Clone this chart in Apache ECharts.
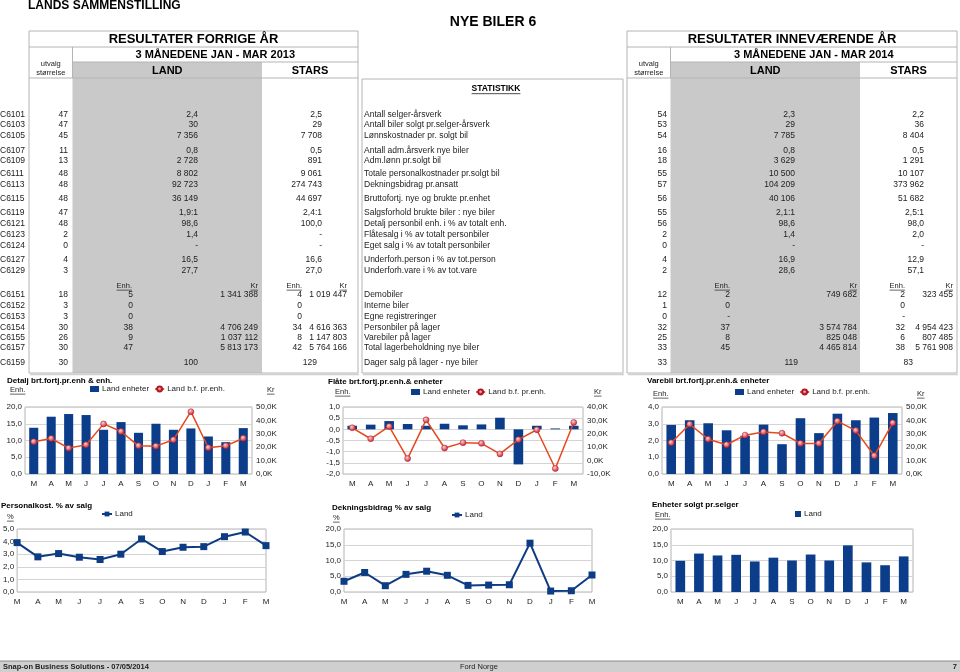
<!DOCTYPE html>
<html><head><meta charset="utf-8">
<script src="https://cdn.jsdelivr.net/npm/echarts@6/dist/echarts.min.js"></script>
<style>html,body{margin:0;padding:0;background:#fff}#c{width:960px;height:672px}</style>
</head><body><div id="c"></div><script>
// ---------- DATA ----------
const months = ['M','A','M','J','J','A','S','O','N','D','J','F','M'];
const detaljEnh = [13.8,17.1,17.9,17.6,13.2,15.5,12.3,15.0,13.2,13.6,11.2,9.5,13.7];
const detaljKr  = [24000,26500,19300,21800,37400,31700,21000,20800,25500,46500,19600,21000,26700];
const flateEnh  = [0.16,0.21,0.37,0.24,0.16,0.25,0.18,0.22,0.52,-1.57,0.16,0.04,0.16];
const flateKr   = [24500,16300,25500,1500,30400,9400,13400,12900,5000,15600,23000,-5900,28500];
const vareEnh   = [2.93,3.21,3.03,2.61,2.28,2.95,1.78,3.33,2.44,3.60,3.21,3.37,3.64];
const vareKr    = [23300,37100,26000,21800,29000,31400,30400,22800,22800,39400,32400,13600,38100];
const personalPct = [3.92,2.79,3.05,2.76,2.58,3.00,4.21,3.21,3.55,3.60,4.39,4.76,3.68];
const dbPct       = [3.4,6.2,2.0,5.6,6.6,5.3,2.1,2.2,2.3,15.5,0.3,0.4,5.4];
const enhPrSelger = [9.9,12.2,11.6,11.8,9.7,10.9,10.0,11.9,10.0,14.8,9.4,8.5,11.3];

const codes = ['C6101','C6103','C6105','C6107','C6109','C6111','C6113','C6115','C6119','C6121','C6123','C6124','C6127','C6129'];
const statText = ['Antall selger-årsverk','Antall biler solgt pr.selger-årsverk','Lønnskostnader pr. solgt bil','Antall adm.årsverk nye biler','Adm.lønn pr.solgt bil','Totale personalkostnader pr.solgt bil','Dekningsbidrag pr.ansatt','Bruttofortj. nye og brukte pr.enhet','Salgsforhold brukte biler : nye biler','Detalj personbil enh. i % av totalt enh.','Flåtesalg i % av totalt personbiler','Eget salg i % av totalt personbiler','Underforh.person i % av tot.person','Underforh.vare i % av tot.vare'];
const prevUtvalg = ['47','47','45','11','13','48','48','48','47','48','2','0','4','3'];
const prevLand   = ['2,4','30','7 356','0,8','2 728','8 802','92 723','36 149','1,9:1','98,6','1,4','-','16,5','27,7'];
const prevStars  = ['2,5','29','7 708','0,5','891','9 061','274 743','44 697','2,4:1','100,0','-','-','16,6','27,0'];
const curUtvalg  = ['54','53','54','16','18','55','57','56','55','56','2','0','4','2'];
const curLand    = ['2,3','29','7 785','0,8','3 629','10 500','104 209','40 106','2,1:1','98,6','1,4','-','16,9','28,6'];
const curStars   = ['2,2','36','8 404','0,5','1 291','10 107','373 962','51 682','2,5:1','98,0','2,0','-','12,9','57,1'];

const codes2 = ['C6151','C6152','C6153','C6154','C6155','C6157','C6159'];
const statText2 = ['Demobiler','Interne biler','Egne registreringer','Personbiler på lager','Varebiler på lager','Total lagerbeholdning nye biler','Dager salg på lager - nye biler'];
const prevUtvalg2 = ['18','3','3','30','26','30','30'];
const prevLandEnh = ['5','0','0','38','9','47'];
const prevLandKr  = ['1 341 388','','','4 706 249','1 037 112','5 813 173'];
const prevStarsEnh = ['4','0','0','34','8','42'];
const prevStarsKr  = ['1 019 447','','','4 616 363','1 147 803','5 764 166'];
const prevDays = ['100','129'];
const curUtvalg2 = ['12','1','0','32','25','33','33'];
const curLandEnh = ['2','0','-','37','8','45'];
const curLandKr  = ['749 682','','','3 574 784','825 048','4 465 814'];
const curStarsEnh = ['2','0','-','32','6','38'];
const curStarsKr  = ['323 455','','','4 954 423','807 485','5 761 908'];
const curDays = ['119','83'];

// ---------- LAYOUT / STYLE ----------
const FF = 'Liberation Sans, Arial, Helvetica, sans-serif';
const TXT = '#222';
const BAR = '#0b3d8a';
const LINE = '#e5481c';
const GRAYCOL = '#c9c9c9';
const BORDER = '#b4b4b4';
const rowsY = [115,125,136,151,161,174,185,199,213,224,235,246,260,271];
const rows2Y = [295,306,317,328,338,348,363];

const cv = document.createElement('canvas').getContext('2d');
function tw(text, size, bold){ cv.font = (bold?'bold ':'') + size + 'px ' + FF; return cv.measureText(text).width; }

const g = [];
function T(x, y, text, o){
  o = o || {};
  g.push({type:'text', x:x, y:y, silent:true, z:10, style:{text:text, fill:o.fill||TXT, fontSize:o.size||8.5,
    fontWeight:o.bold?'bold':'normal', fontFamily:FF, align:o.align||'left', verticalAlign:'middle'}});
  if (o.underline){
    const w = tw(text, o.size||8.5, o.bold);
    let x1 = x; if ((o.align||'left')==='right') x1 = x - w; else if (o.align==='center') x1 = x - w/2;
    const yy = y + (o.size||8.5)*0.55;
    L(x1, yy, x1 + w, yy, o.fill||TXT, 0.7);
  }
}
function L(x1,y1,x2,y2,c,w){ g.push({type:'line', silent:true, z:9, shape:{x1:x1,y1:y1,x2:x2,y2:y2}, style:{stroke:c||BORDER, lineWidth:w||1}}); }
function R(x,y,w,h,fill,stroke){ g.push({type:'rect', silent:true, z:1, shape:{x:x,y:y,width:w,height:h}, style:{fill:fill||'none', stroke:stroke||null, lineWidth:1}}); }

// Header titles
T(28, 6, 'LANDS SAMMENSTILLING', {size:12, bold:true, fill:'#000'});
T(493, 22, 'NYE BILER 6', {size:14, bold:true, fill:'#000', align:'center'});

// Boxes
function bigBox(x0, x1, vx, grayR, title, sub){
  R(vx, 62, grayR - vx, 373 - 62, GRAYCOL, null);
  R(x0, 31, x1 - x0, 342, 'none', BORDER);
  L(x0, 47, x1, 47); L(vx, 62, x1, 62); L(x0, 78, x1, 78); L(vx, 47, vx, 78);
  L(x0+1, 374.5, x1+1, 374.5, '#d0d0d0', 1.5);
  T((x0+x1)/2, 39, title, {size:13, bold:true, fill:'#000', align:'center'});
  T((vx+x1)/2, 55, sub, {size:11, bold:true, fill:'#000', align:'center'});
  T((x0+vx)/2, 64, 'utvalg', {size:7.5, align:'center'});
  T((x0+vx)/2, 73, 'størrelse', {size:7.5, align:'center'});
  T((vx+grayR)/2, 71, 'LAND', {size:11, bold:true, fill:'#000', align:'center'});
  T((grayR+x1)/2, 71, 'STARS', {size:11, bold:true, fill:'#000', align:'center'});
}
bigBox(29, 358, 72.5, 262, 'RESULTATER FORRIGE ÅR', '3 MÅNEDENE JAN - MAR 2013');
bigBox(627, 957, 670.5, 860, 'RESULTATER INNEVÆRENDE ÅR', '3 MÅNEDENE JAN - MAR 2014');
R(362, 79, 261, 294, 'none', BORDER);
L(363, 374.5, 624, 374.5, '#d0d0d0', 1.5);
T(496, 89, 'STATISTIKK', {size:8.5, bold:true, fill:'#000', align:'center', underline:true});

// Upper table rows
rowsY.forEach(function(y, i){
  T(0, y, codes[i]);
  T(68, y, prevUtvalg[i], {align:'right'});
  T(198, y, prevLand[i], {align:'right'});
  T(322, y, prevStars[i], {align:'right'});
  T(364, y, statText[i]);
  T(667, y, curUtvalg[i], {align:'right'});
  T(795, y, curLand[i], {align:'right'});
  T(924, y, curStars[i], {align:'right'});
});

// Lower table
const hy = 286;
[[132,'Enh.'],[258,'Kr'],[302,'Enh.'],[347,'Kr'],[730,'Enh.'],[857,'Kr'],[905,'Enh.'],[953,'Kr']].forEach(function(h){
  T(h[0], hy, h[1], {size:7.5, align:'right', underline:true});
});
rows2Y.forEach(function(y, i){
  T(0, y, codes2[i]);
  T(68, y, prevUtvalg2[i], {align:'right'});
  T(364, y, statText2[i]);
  T(667, y, curUtvalg2[i], {align:'right'});
  if (i < 6){
    T(133, y, prevLandEnh[i], {align:'right'});
    T(258, y, prevLandKr[i], {align:'right'});
    T(302, y, prevStarsEnh[i], {align:'right'});
    T(347, y, prevStarsKr[i], {align:'right'});
    T(730, y, curLandEnh[i], {align:'right'});
    T(857, y, curLandKr[i], {align:'right'});
    T(905, y, curStarsEnh[i], {align:'right'});
    T(953, y, curStarsKr[i], {align:'right'});
  } else {
    T(198, y, prevDays[0], {align:'right'});
    T(317, y, prevDays[1], {align:'right'});
    T(798, y, curDays[0], {align:'right'});
    T(913, y, curDays[1], {align:'right'});
  }
});

// Chart captions
const CT = {size:8, bold:true, fill:'#000'};
T(7, 381, 'Detalj brt.fortj.pr.enh & enh.', CT);
T(328, 382, 'Flåte brt.fortj.pr.enh.& enheter', CT);
T(647, 381, 'Varebil brt.fortj.pr.enh.& enheter', CT);
T(1, 506, 'Personalkost. % av salg', CT);
T(332, 508, 'Dekningsbidrag % av salg', CT);
T(652, 505, 'Enheter solgt pr.selger', CT);
const UT = {size:7.5, underline:true};
T(10, 390, 'Enh.', UT); T(267, 390, 'Kr', UT);
T(335, 392, 'Enh.', UT); T(594, 392, 'Kr', UT);
T(653, 394, 'Enh.', UT); T(917, 394, 'Kr', UT);
T(7, 517, '%', UT); T(333, 518, '%', UT); T(655, 515, 'Enh.', UT);

// Footer
R(0, 661, 960, 11, '#cfcfcf', null);
L(0, 661, 960, 661, '#8a8a8a', 1);
T(3, 666.5, 'Snap-on Business Solutions - 07/05/2014', {size:7.5, bold:true});
T(460, 666.5, 'Ford Norge', {size:7.5});
T(957, 666.5, '7', {size:7.5, bold:true, align:'right'});

// ---------- CHARTS ----------
const f1 = v => v.toFixed(1).replace('.', ',');
const fK = v => (v/1000).toFixed(1).replace('.', ',') + 'K';
const gridBoxes = [[25,407,227,67],[343,407,240,67],[662,407,240,67],[15,529,251,63],[344,529,248,63],[671,529,242,63]];
const grids = gridBoxes.map(b => ({left:b[0], top:b[1], width:b[2], height:b[3], show:true, borderColor:BORDER, borderWidth:1, backgroundColor:'#fff', containLabel:false}));
const xAxes = gridBoxes.map((b, i) => ({type:'category', gridIndex:i, data:months, boundaryGap:!(i===3||i===4),
  axisLine:{show:false}, axisTick:{show:false}, axisLabel:{fontSize:8, color:TXT, margin:6, fontFamily:FF, interval:0}}));
function yA(grid, min, max, step, fmt, right){
  return {type:'value', gridIndex:grid, min:min, max:max, interval:step, position:right?'right':'left',
    axisLine:{show:false}, axisTick:{show:false},
    axisLabel:{fontSize:8, color:TXT, fontFamily:FF, margin:right?4:3, formatter:fmt},
    splitLine:{show:!right, lineStyle:{color:'#d4d4d4', width:1}}};
}
const yAxes = [
  yA(0,0,20,5,f1,false), yA(0,0,50000,10000,fK,true),
  yA(1,-2,1,0.5,f1,false), yA(1,-10000,40000,10000,fK,true),
  yA(2,0,4,1,f1,false), yA(2,0,50000,10000,fK,true),
  yA(3,0,5,1,f1,false), yA(4,0,20,5,f1,false), yA(5,0,20,5,f1,false)
];
const dot = {type:'radial', x:0.4, y:0.35, r:0.65, colorStops:[{offset:0, color:'#fbd0d0'},{offset:1, color:'#c8202e'}]};
function barS(name, xi, yi, data){ return {type:'bar', name:name, xAxisIndex:xi, yAxisIndex:yi, data:data, barWidth:'52%', itemStyle:{color:BAR}, silent:true, animation:false}; }
function lineKr(xi, yi, data){ return {type:'line', name:'Land b.f. pr.enh.', xAxisIndex:xi, yAxisIndex:yi, data:data, symbol:'circle', symbolSize:6,
  lineStyle:{color:LINE, width:1.5}, itemStyle:{color:dot, borderColor:'#b01828', borderWidth:0.5}, silent:true, animation:false}; }
function lineP(xi, yi, data){ return {type:'line', name:'Land', xAxisIndex:xi, yAxisIndex:yi, data:data, symbol:'rect', symbolSize:7,
  lineStyle:{color:'#0d3c84', width:2}, itemStyle:{color:'#0d3c84'}, silent:true, animation:false}; }
const series = [
  barS('Land enheter',0,0,detaljEnh), lineKr(0,1,detaljKr),
  barS('Land enheter',1,2,flateEnh), lineKr(1,3,flateKr),
  barS('Land enheter',2,4,vareEnh), lineKr(2,5,vareKr),
  lineP(3,6,personalPct), lineP(4,7,dbPct),
  barS('Land',5,8,enhPrSelger)
];
function leg(left, top, data, iw){ return {left:left, top:top, orient:'horizontal', padding:0, itemGap:5, itemWidth:iw||9, itemHeight:6, selectedMode:false,
  textStyle:{fontSize:8, color:TXT, fontFamily:FF, padding:[0,0,0,-2]}, data:data}; }
const legends = [
  leg(90, 385, [{name:'Land enheter', icon:'rect'}, 'Land b.f. pr.enh.']),
  leg(411, 388, [{name:'Land enheter', icon:'rect'}, 'Land b.f. pr.enh.']),
  leg(735, 388, [{name:'Land enheter', icon:'rect'}, 'Land b.f. pr.enh.']),
  leg(101, 510, ['Land'], 10),
  leg(451, 511, ['Land'], 10),
  leg(795, 510, [{name:'Land', icon:'rect'}], 6)
];

const chart = echarts.init(document.getElementById('c'), null, {renderer:'canvas'});
chart.setOption({
  animation:false,
  backgroundColor:'#fff',
  textStyle:{fontFamily:FF},
  grid:grids, xAxis:xAxes, yAxis:yAxes, series:series, legend:legends,
  graphic:{elements:g}
});
</script></body></html>
